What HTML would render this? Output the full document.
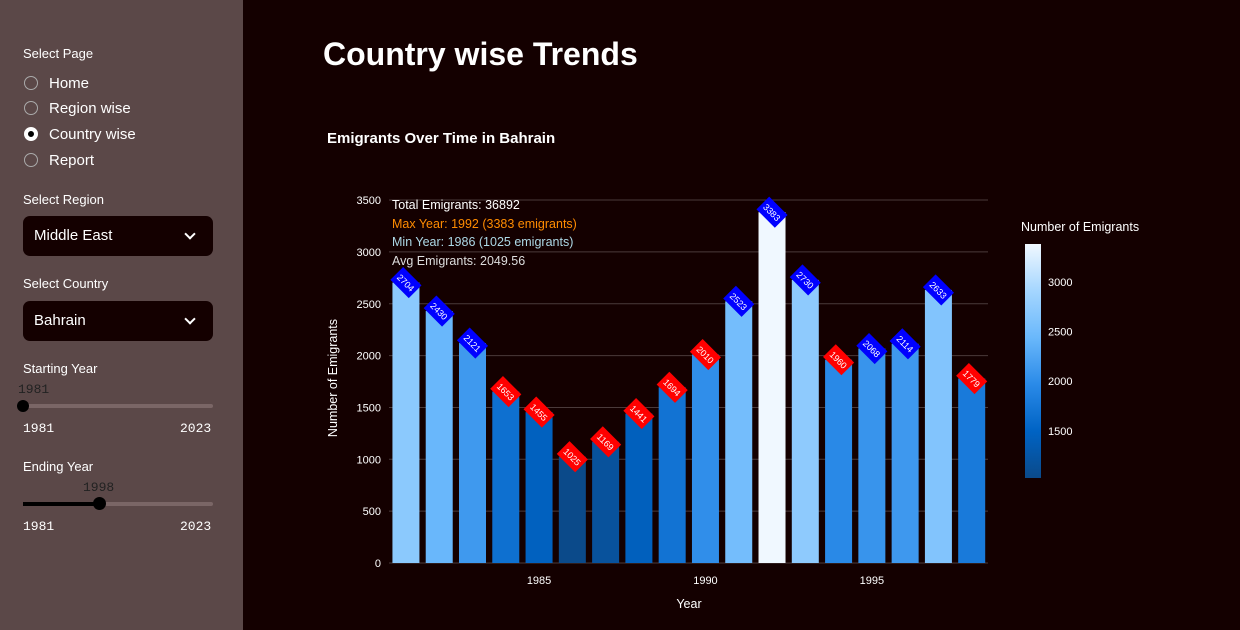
<!DOCTYPE html>
<html><head><meta charset="utf-8"><style>
body{margin:0;width:1240px;height:630px;background:#140000;font-family:"Liberation Sans",sans-serif;overflow:hidden;position:relative}
.sb{position:absolute;left:0;top:0;width:243px;height:630px;background:#5b4848;color:#fff}
.t{position:absolute;font-size:14px}
.radio{position:absolute;left:24px;width:14px;height:14px;border:1px solid #aaa;border-radius:50%;box-sizing:border-box}
.sel{position:absolute;left:23px;width:190px;height:40px;background:#140000;border-radius:7px;font-size:15px;line-height:40px;padding-left:11px;box-sizing:border-box}
.chev{position:absolute;right:19px;top:14px;width:6px;height:6px;border-right:2px solid #fff;border-bottom:2px solid #fff;transform:rotate(45deg)}
.mono{font-family:"Liberation Mono",monospace;font-size:13px;position:absolute}
</style></head><body>
<div class="sb">
<div class="t" style="left:23px;top:46px;font-size:13px">Select Page</div>
<div class="radio" style="top:76px"></div><div class="t" style="left:49px;top:75px;font-size:15px">Home</div>
<div class="radio" style="top:101px"></div><div class="t" style="left:49px;top:100px;font-size:15px">Region wise</div>
<div class="radio" style="top:127px;background:#000;border:4px solid #fff;"></div><div class="t" style="left:49px;top:126px;font-size:15px">Country wise</div>
<div class="radio" style="top:153px"></div><div class="t" style="left:49px;top:152px;font-size:15px">Report</div>
<div class="t" style="left:23px;top:192px;font-size:13px">Select Region</div>
<div class="sel" style="top:216px">Middle East<span class="chev"></span></div>
<div class="t" style="left:23px;top:276px;font-size:13px">Select Country</div>
<div class="sel" style="top:301px">Bahrain<span class="chev"></span></div>
<div class="t" style="left:23px;top:361px;font-size:13px">Starting Year</div>
<div class="mono" style="left:18px;top:382px;color:#222">1981</div>
<div style="position:absolute;left:23px;top:404px;width:190px;height:4px;background:#7a6666;border-radius:2px"></div>
<div style="position:absolute;left:17px;top:400px;width:12px;height:12px;background:#000;border-radius:50%"></div>
<div class="mono" style="left:23px;top:421px">1981</div><div class="mono" style="left:180px;top:421px">2023</div>
<div class="t" style="left:23px;top:459px;font-size:13px">Ending Year</div>
<div class="mono" style="left:83px;top:480px;color:#222">1998</div>
<div style="position:absolute;left:23px;top:502px;width:190px;height:4px;background:#7a6666;border-radius:2px"></div>
<div style="position:absolute;left:23px;top:502px;width:77px;height:4px;background:#000"></div>
<div style="position:absolute;left:93px;top:497px;width:13px;height:13px;background:#000;border-radius:50%"></div>
<div class="mono" style="left:23px;top:519px">1981</div><div class="mono" style="left:180px;top:519px">2023</div>
</div>
<div style="position:absolute;left:323px;top:36px;color:#fff;font-size:32px;font-weight:bold">Country wise Trends</div>
<svg id="c" width="1240" height="630" style="position:absolute;left:0;top:0"></svg>
<script>
const years=[1981,1982,1983,1984,1985,1986,1987,1988,1989,1990,1991,1992,1993,1994,1995,1996,1997,1998];
const values=[2704,2430,2121,1653,1455,1025,1169,1441,1694,2010,2523,3383,2730,1960,2068,2114,2633,1779];
const yTicks=[0,500,1000,1500,2000,2500,3000,3500];
const xTicks=[1985,1990,1995];
const cbTicks=[1500,2000,2500,3000];
const svg=document.getElementById('c');const NS='http://www.w3.org/2000/svg';
function el(t,a,txt){const e=document.createElementNS(NS,t);for(const k in a)e.setAttribute(k,a[k]);if(txt!=null)e.textContent=txt;svg.appendChild(e);return e;}
const X=y=>389.3+(y-1980.5)*33.28, Y=v=>563-v*0.1037;
const vmin=Math.min(...values),vmax=Math.max(...values);
const stops=[[0,[11,74,138]],[0.2,[0,99,196]],[0.4,[42,138,232]],[0.6,[106,184,251]],[0.8,[165,214,255]],[1,[240,248,255]]];
function col(v){let t=(v-vmin)/(vmax-vmin);for(let i=1;i<stops.length;i++){if(t<=stops[i][0]){const a=stops[i-1],b=stops[i];const f=(t-a[0])/(b[0]-a[0]);const c=a[1].map((x,j)=>Math.round(x+(b[1][j]-x)*f));return `rgb(${c})`;}}return 'rgb(240,248,255)';}
let e=el('text',{x:327,y:143,fill:'#fff','font-size':15,'font-weight':'bold'},'Emigrants Over Time in Bahrain');

yTicks.forEach(v=>{let g=el('line',{x1:389,x2:988,y1:Y(v),y2:Y(v),stroke:'#4a3a3a'});
let t=el('text',{x:381,y:Y(v)+4,fill:'#fff','font-size':11,'text-anchor':'end'},v);});
xTicks.forEach(v=>{let t=el('text',{x:X(v),y:584,fill:'#fff','font-size':11,'text-anchor':'middle'},v);});
const avg=values.reduce((a,b)=>a+b,0)/values.length;
years.forEach((yr,i)=>{const v=values[i];let r=el('rect',{x:X(yr)-13.5,y:Y(v),width:27,height:563-Y(v),fill:col(v)});});
years.forEach((yr,i)=>{const v=values[i];const cx=X(yr),cy=Y(v);
let g=el('g',{transform:`translate(${cx},${cy}) rotate(45)`});
const r=document.createElementNS(NS,'rect');r.setAttribute('x',-13);r.setAttribute('y',-9);r.setAttribute('width',26);r.setAttribute('height',18);r.setAttribute('fill',v>avg?'#0000ff':'#ff0000');g.appendChild(r);
const t=document.createElementNS(NS,'text');t.setAttribute('x',0);t.setAttribute('y',3.5);t.setAttribute('fill','#fff');t.setAttribute('font-size',9);t.setAttribute('text-anchor','middle');t.textContent=v;g.appendChild(t);});
const total=values.reduce((a,b)=>a+b,0);const mi=values.indexOf(vmax),ni=values.indexOf(vmin);
[['Total Emigrants: '+total,'#fff',209],[`Max Year: ${years[mi]} (${vmax} emigrants)`,'#ff8c00',228],[`Min Year: ${years[ni]} (${vmin} emigrants)`,'#add8e6',246],['Avg Emigrants: '+avg.toFixed(2),'#ddd',265]].forEach(a=>{let t=el('text',{x:392,y:a[2],fill:a[1],'font-size':12.5},a[0]);});
e=el('text',{x:689,y:608,fill:'#fff','font-size':12.5,'text-anchor':'middle'},'Year');
e=el('text',{x:337,y:378,fill:'#fff','font-size':12.5,'text-anchor':'middle',transform:'rotate(-90 337 378)'},'Number of Emigrants');
const defs=el('defs',{});const lg=document.createElementNS(NS,'linearGradient');lg.setAttribute('id','cb');lg.setAttribute('x1',0);lg.setAttribute('y1',1);lg.setAttribute('x2',0);lg.setAttribute('y2',0);
stops.forEach(s=>{const st=document.createElementNS(NS,'stop');st.setAttribute('offset',s[0]);st.setAttribute('stop-color',`rgb(${s[1]})`);lg.appendChild(st);});defs.appendChild(lg);
const CY=v=>478-(v-vmin)/(vmax-vmin)*234;
e=el('rect',{x:1025,y:244,width:16,height:234,fill:'url(#cb)'});
cbTicks.forEach(v=>{let t=el('text',{x:1048,y:CY(v)+4,fill:'#fff','font-size':11},v);});
e=el('text',{x:1021,y:231,fill:'#fff','font-size':12.5},'Number of Emigrants');
</script>
</body></html>
